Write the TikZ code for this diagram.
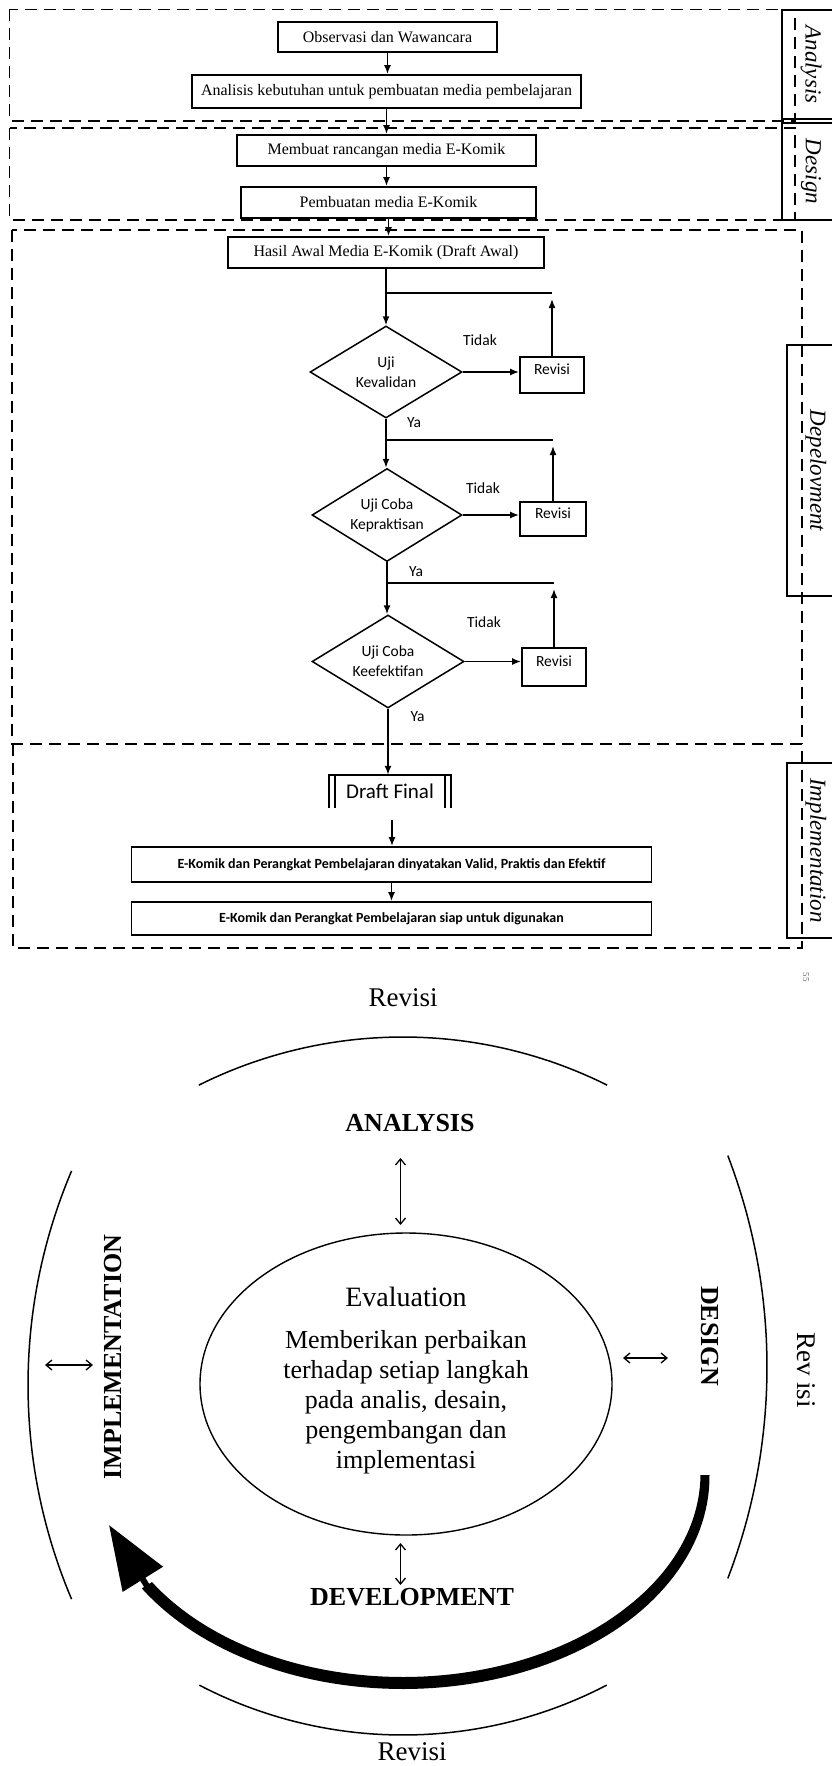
\documentclass[tikz,border=0pt]{standalone}
\usepackage{fontspec}
\setmainfont{Liberation Serif}
\newfontfamily\calfont{Carlito}
\usetikzlibrary{arrows.meta,shapes.geometric}
\begin{document}
\begin{tikzpicture}[x=1pt,y=-1pt,
  tbox/.style={draw,line width=1.8pt,inner sep=0pt,font=\fontsize{16}{19}\selectfont},
  dec/.style={diamond,draw,line width=1.5pt,shape aspect=1.65,inner sep=0pt,align=center,font=\calfont\fontsize{15.5}{20}\selectfont},
  revbox/.style={draw,line width=1.8pt,inner sep=0pt,minimum width=64pt,minimum height=36pt,text height=10pt,text depth=12pt,font=\calfont\fontsize{15.5}{18}\selectfont},
  lbl/.style={font=\calfont\fontsize{15.5}{18}\selectfont,inner sep=0pt},
  arr/.style={line width=1.6pt,-{Latex[length=9pt,width=7pt]}},
  ln/.style={line width=1.6pt},
  dbox/.style={line width=1.8pt,dash pattern=on 12pt off 7pt},
  side/.style={draw,line width=1.8pt,rotate=-90,inner sep=0pt,font=\itshape\fontsize{23}{26}\selectfont},
  ebox/.style={draw,line width=1.8pt,inner sep=0pt,minimum width=520pt,font=\calfont\bfseries\fontsize{14}{16}\selectfont},
  cyc/.style={line width=1.5pt},
  big/.style={font=\bfseries\fontsize{26}{30}\selectfont,inner sep=0pt},
  rv/.style={font=\fontsize{27}{30}\selectfont,inner sep=0pt},
  darr/.style={line width=1.3pt,{Straight Barb[length=6pt,width=10pt]}-{Straight Barb[length=6pt,width=10pt]}},
]
\useasboundingbox (0,0) rectangle (832,1766);

% dashed phase frames
\draw[dbox] (9.5,9.5) rectangle (795,121);
\draw[dbox] (9.5,128) rectangle (795,220);
\draw[dbox] (12,230) rectangle (802,744);
\draw[dbox] (13,744) rectangle (802,948);

% side labels
\node[side,minimum width=109pt,minimum height=58pt] (sA) at (811,64.5) {Analysis};
\node[side,minimum width=97pt,minimum height=58pt] (sD) at (811,171.5) {Design};
\node[side,minimum width=251pt,minimum height=58pt] (sV) at (816,470.5) {Depelovment};
\node[side,minimum width=175pt,minimum height=58pt] (sI) at (816,850.5) {Implementation};

% top flow
\node[tbox,minimum width=219pt,minimum height=30pt] (obs) at (387.5,37) {Observasi dan Wawancara};
\node[tbox,minimum width=389pt,minimum height=33pt] (ana) at (386.5,91.5) {Analisis kebutuhan untuk pembuatan media pembelajaran};
\node[tbox,minimum width=299pt,minimum height=31pt] (mem) at (386.5,150.5) {Membuat rancangan media E-Komik};
\node[tbox,minimum width=295pt,minimum height=31pt] (pem) at (388.5,202.5) {Pembuatan media E-Komik};
\node[tbox,minimum width=316pt,minimum height=31pt] (has) at (386,252.5) {Hasil Awal Media E-Komik (Draft Awal)};

\draw[arr] (obs.south) -- (obs.south |- ana.north);
\draw[arr] (ana.south) -- (ana.south |- mem.north);
\draw[arr] (mem.south) -- (mem.south |- pem.north);
\draw[arr] (pem.south) -- (pem.south |- has.north);

% decisions
\node[dec,minimum width=152pt,minimum height=92pt] (d1) at (386,372) {Uji\\Kevalidan};
\node[dec,minimum width=150pt,minimum height=93pt] (d2) at (387,515) {Uji Coba\\Kepraktisan};
\node[dec,minimum width=152pt,minimum height=93pt] (d3) at (388,661.5) {Uji Coba\\Keefektifan};

\node[revbox] (r1) at (552,375) {Revisi};
\node[revbox,minimum width=66pt,minimum height=34pt] (r2) at (553,519) {Revisi};
\node[revbox,minimum height=38pt] (r3) at (554,667) {Revisi};

\coordinate (j1) at (386,293); \coordinate (k1) at (552,293); \coordinate (u1) at (552,299);
\coordinate (j2) at (387,440); \coordinate (k2) at (553,440); \coordinate (u2) at (553,446);
\coordinate (j3) at (388,583); \coordinate (k3) at (554,583); \coordinate (u3) at (554,589);

\draw[arr] (has.south) -- (has.south |- d1.north);
\draw[ln] (k1) -- (j1);
\draw[arr] (d1.east) -- (d1.east -| r1.west);
\draw[arr] (r1.north) -- (u1);

\draw[arr] (d1.south) -- (d1.south |- d2.north);
\draw[ln] (k2) -- (j2);
\draw[arr] (d2.east) -- (d2.east -| r2.west);
\draw[arr] (r2.north) -- (u2);

\draw[arr] (d2.south) -- (d2.south |- d3.north);
\draw[ln] (k3) -- (j3);
\draw[arr] (d3.east) -- (d3.east -| r3.west);
\draw[arr] (r3.north) -- (u3);

\node[lbl] (t1) at (480,340) {Tidak};
\node[lbl] (y1) at (414,423) {Ya};
\node[lbl] (t2) at (483,488) {Tidak};
\node[lbl] (y2) at (416,572) {Ya};
\node[lbl] (t3) at (484,622) {Tidak};
\node[lbl] (y3) at (417.5,717) {Ya};

% draft final
\node[minimum width=122pt,minimum height=33pt,inner sep=0pt,font=\calfont\fontsize{21}{24}\selectfont] (draft) at (390,791.5) {Draft Final};
\draw[line width=1.8pt] (draft.south west) -- (draft.north west) -- (draft.north east) -- (draft.south east);
\draw[line width=1.8pt] ([xshift=6pt]draft.south west) -- ([xshift=6pt]draft.north west);
\draw[line width=1.8pt] ([xshift=-6pt]draft.south east) -- ([xshift=-6pt]draft.north east);
\draw[arr] (d3.south) -- (d3.south |- draft.north);

\node[ebox,minimum height=35pt] (ek1) at (391.5,864.5) {E-Komik dan Perangkat Pembelajaran dinyatakan Valid, Praktis dan Efektif};
\node[ebox,minimum height=33pt] (ek2) at (391.5,918.5) {E-Komik dan Perangkat Pembelajaran siap untuk digunakan};
\coordinate (dq) at (392,820);
\draw[arr] (dq) -- (dq |- ek1.north);
\draw[arr] (ek1.south) -- (ek1.south |- ek2.north);

% ---------- cycle ----------
\node[font=\fontsize{9}{10}\selectfont,text=black!60,rotate=-90,inner sep=0pt] (pg) at (806,977) {55};

% outer "Revisi" arcs (circular pieces)
\draw[cyc] plot[domain=243.5:296.5,samples=50] ({403+457.5*cos(\x)},{1494.5+457.5*sin(\x)});
\draw[cyc] plot[domain=62.5:117.5,samples=50] ({403+441.2*cos(\x)},{1293.8+441.2*sin(\x)});
\draw[cyc] plot[domain=157:203,samples=50] ({576+548*cos(\x)},{1385+548*sin(\x)});
\draw[cyc] plot[domain=-21:21,samples=50] ({177+590*cos(\x)},{1367+590*sin(\x)});

\node[draw,ellipse,line width=1.4pt,minimum width=412pt,minimum height=302pt,inner sep=0pt] (ev) at (406,1384) {};
\node[inner sep=0pt,font=\fontsize{28}{30}\selectfont] (evt) at (406,1297) {Evaluation};
\node[align=center,inner sep=0pt,font=\fontsize{26}{30}\selectfont] (evb) at (406,1402) {Memberikan perbaikan\\terhadap setiap langkah\\pada analis, desain,\\pengembangan dan\\implementasi};

\node[big] (anaC) at (410,1123) {ANALYSIS};
\node[big] (devC) at (412,1597) {DEVELOPMENT};
\node[big,rotate=90] (impC) at (113,1357) {IMPLEMENTATION};
\node[big,rotate=-90] (desC) at (710,1336) {DESIGN};
\node[rv] (revT) at (403,998) {Revisi};
\node[rv] (revB) at (412,1752) {Revisi};
\node[rv,rotate=-90] (revR) at (806,1370) {Rev isi};

\coordinate (a1) at (400.5,1158); \coordinate (a2) at (400.5,1225);
\coordinate (b1) at (400.5,1543); \coordinate (b2) at (400.5,1585);
\coordinate (c1) at (45,1365); \coordinate (c2) at (93,1365);
\coordinate (e1) at (623,1358); \coordinate (e2) at (668,1358);
\draw[darr] (a1) -- (a2);
\draw[darr] (b1) -- (b2);
\draw[darr] (c1) -- (c2);
\draw[darr] (e1) -- (e2);

% thick cycle arrow
\fill plot[domain=0:148,samples=80] ({403+(302+4.5+1.5*min(\x/40,1))*cos(\x)},{1475+(208+4.5+1.5*min(\x/40,1))*sin(\x)})
  -- plot[domain=148:0,samples=80] ({403+(302-4.5-1.5*min(\x/40,1))*cos(\x)},{1475+(208-4.5-1.5*min(\x/40,1))*sin(\x)}) -- cycle;
\coordinate (tb) at (147,1586); \coordinate (tt) at (109,1525);
\draw[line width=6pt,-{Triangle[length=64pt,width=46pt]}] (tb) -- (tt);
\end{tikzpicture}
\end{document}
